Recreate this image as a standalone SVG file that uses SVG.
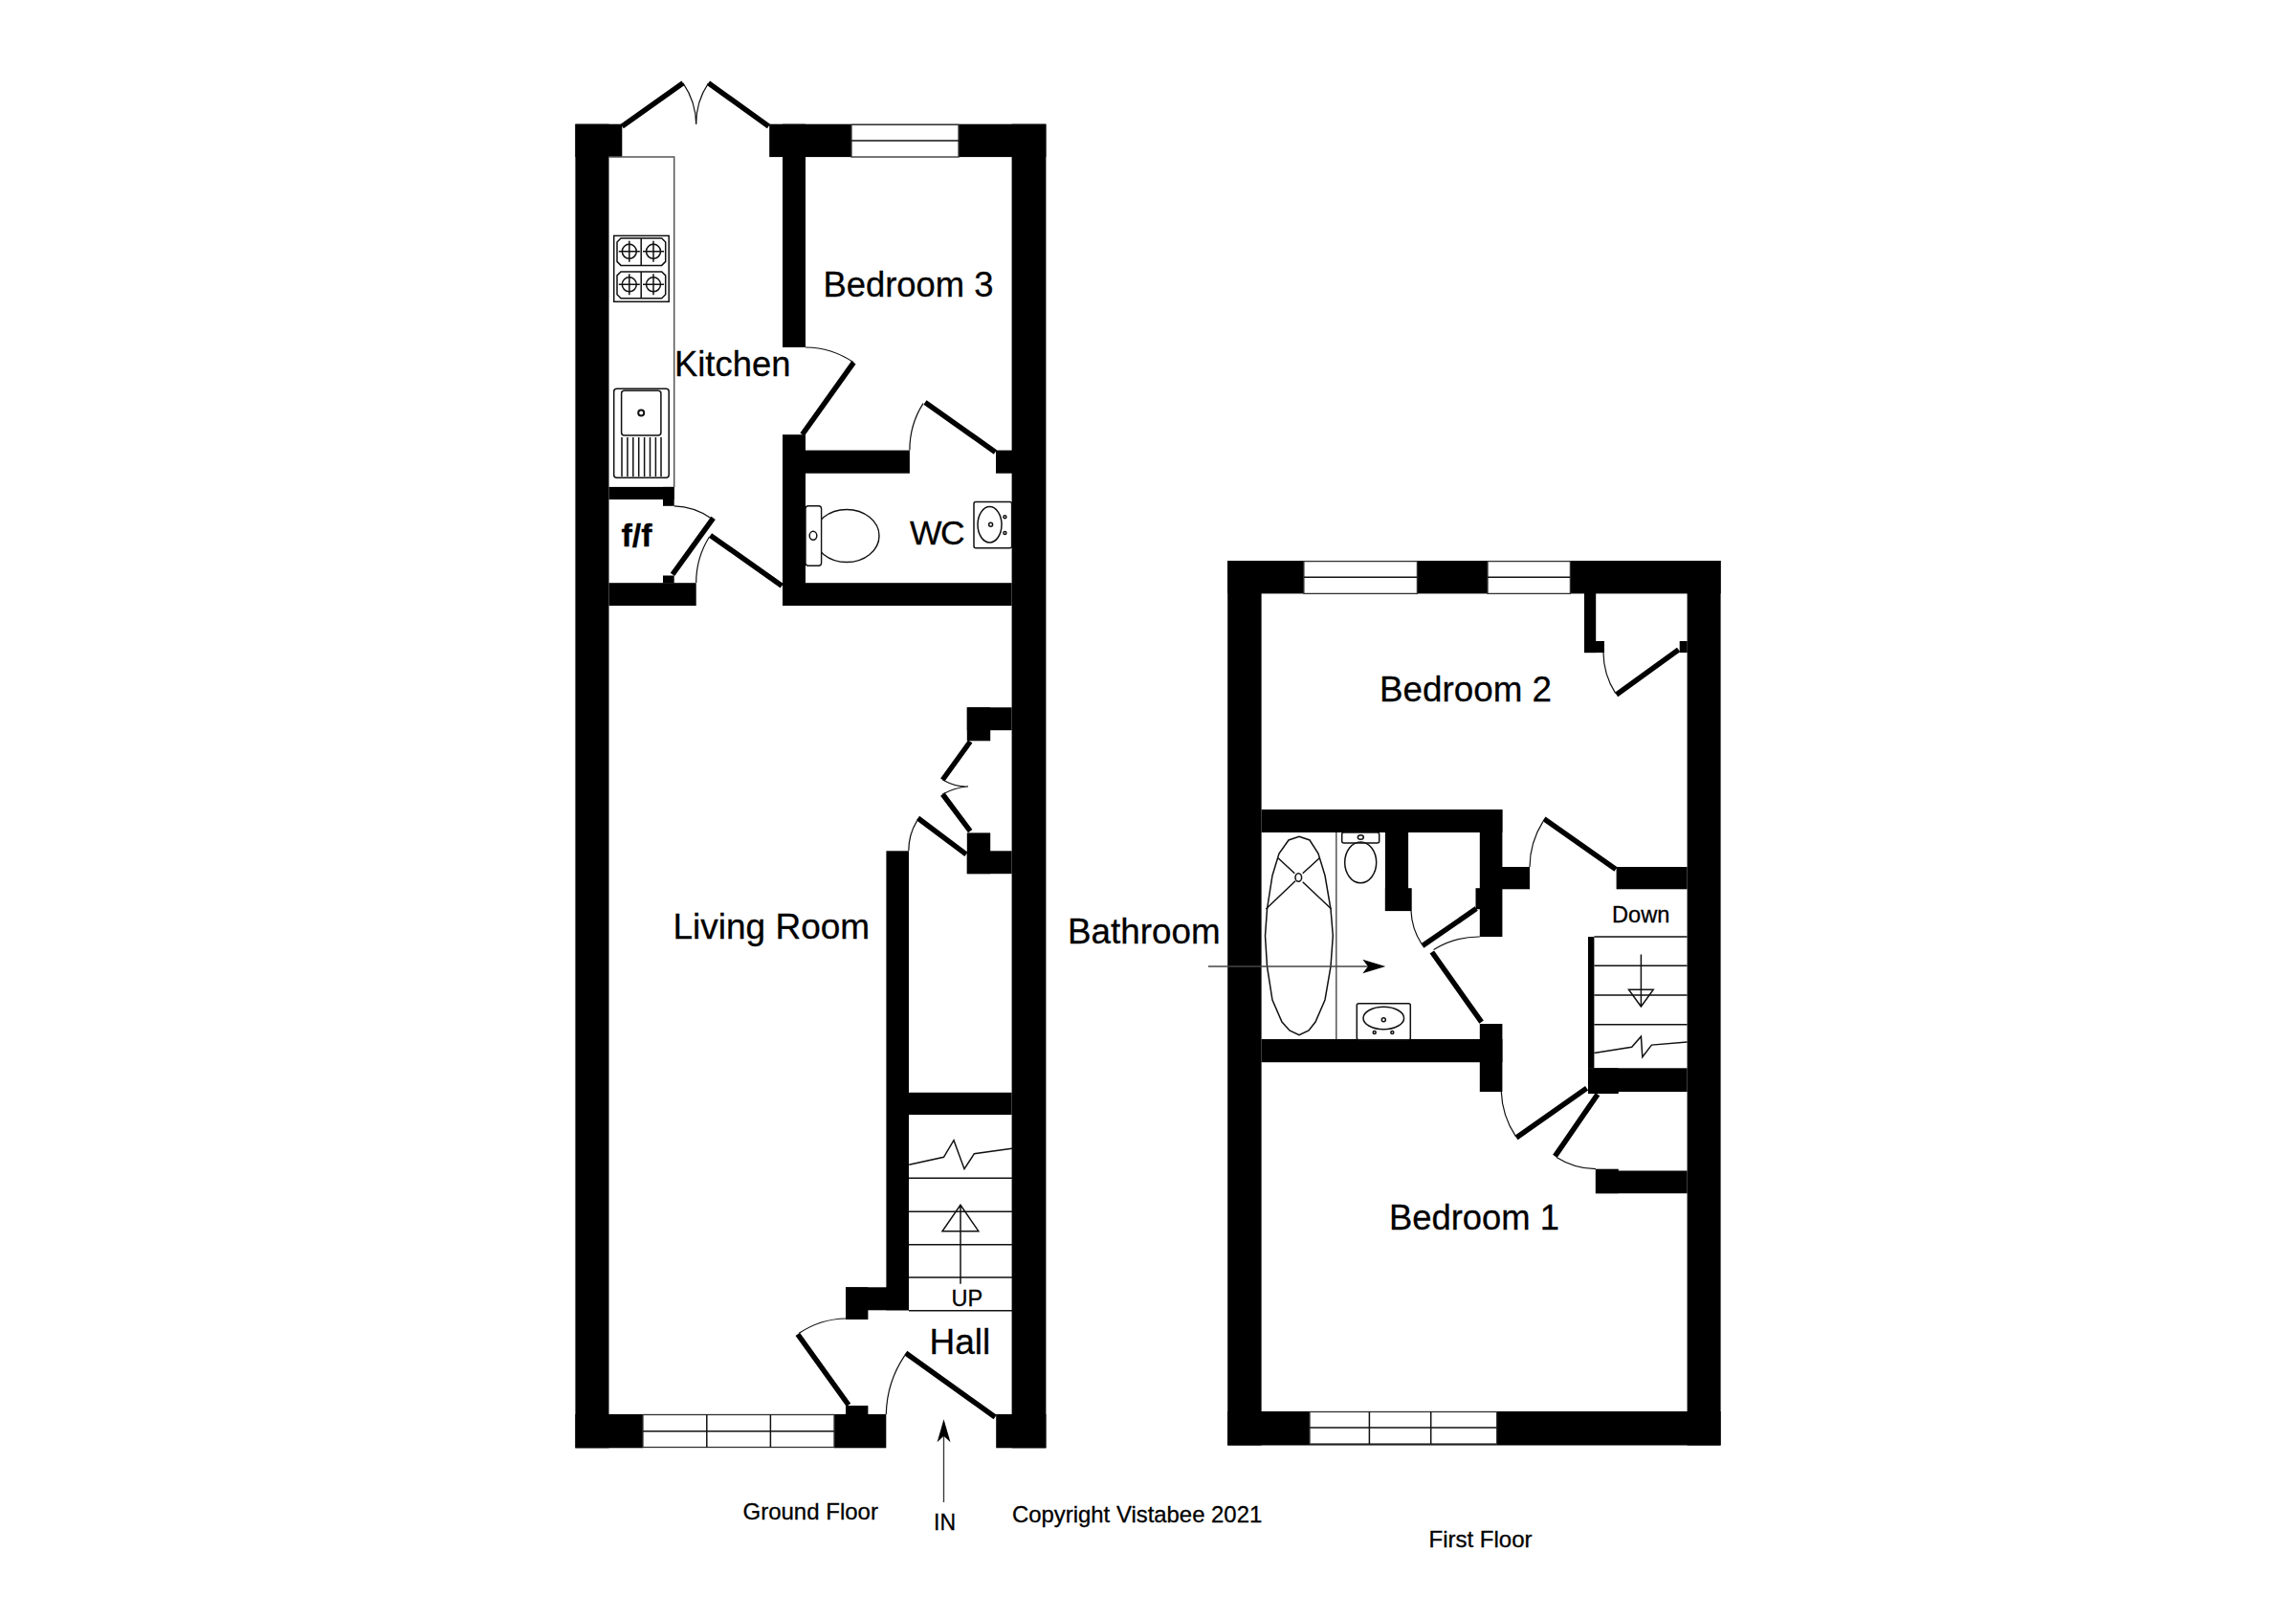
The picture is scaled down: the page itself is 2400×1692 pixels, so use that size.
<svg xmlns="http://www.w3.org/2000/svg" width="2400" height="1692" viewBox="0 0 2400 1692">
<style>
.w{fill:#000;stroke:none}
.win{fill:#fff;stroke:#333;stroke-width:1.3}
.l{fill:none;stroke:#111;stroke-width:1.5}
.g{fill:none;stroke:#555;stroke-width:1.5}
.f{fill:#fff;stroke:#111;stroke-width:1.4}
.leaf{fill:none;stroke:#000;stroke-width:5.5}
.arc{fill:none;stroke:#111;stroke-width:1.2}
.head{fill:#000;stroke:none}
text{font-family:"Liberation Sans",Arial,sans-serif;fill:#000;stroke:#000;stroke-width:.3}
.room{font-size:36.4px}
.small{font-size:24px}
</style>
<defs>
<g id="burner"><circle r="7.5" class="l"/><path d="M-11 0H11M0-11V11" class="l"/></g>
</defs>
<rect width="2400" height="1692" fill="#fff"/>

<g id="ground-floor-walls">
<rect class="w" x="601.4" y="129.7" width="35.1" height="1383.6"/>
<rect class="w" x="601.4" y="129.7" width="48.9" height="34.4"/>
<rect class="w" x="1057.6" y="129.7" width="35.8" height="1383.6"/>
<rect class="w" x="804.2" y="129.7" width="289.2" height="34.4"/>
<rect class="w" x="818" y="129.7" width="24" height="233.3"/>
<rect class="w" x="818" y="454.2" width="24" height="178.8"/>
<rect class="w" x="818" y="609.2" width="239.6" height="23.8"/>
<rect class="w" x="842" y="470.6" width="108.9" height="24.1"/>
<rect class="w" x="1041" y="470.6" width="17" height="24.1"/>
<rect class="w" x="636.5" y="609.2" width="91.2" height="23.8"/>
<rect class="w" x="636.5" y="508.9" width="68.2" height="13.1"/>
<rect class="w" x="693" y="508.9" width="11.7" height="19.9"/>
<rect class="w" x="693" y="601.5" width="11.7" height="8"/>
<rect class="w" x="1010.8" y="739.3" width="46.8" height="23.9"/>
<rect class="w" x="1010.8" y="739.3" width="24.4" height="35"/>
<rect class="w" x="1010.8" y="870.4" width="24.4" height="42.8"/>
<rect class="w" x="1010.8" y="889.3" width="46.8" height="23.9"/>
<rect class="w" x="926.4" y="889.3" width="23.6" height="480"/>
<rect class="w" x="950" y="1141.8" width="107.6" height="23.2"/>
<rect class="w" x="884" y="1345.3" width="66" height="24"/>
<rect class="w" x="884" y="1345.3" width="23.4" height="33.7"/>
<rect class="w" x="601.4" y="1478" width="70.6" height="35.3"/>
<rect class="w" x="872" y="1478" width="54.3" height="35.3"/>
<rect class="w" x="884" y="1469" width="23.4" height="10"/>
<rect class="w" x="1041.2" y="1478" width="52.2" height="35.3"/>
</g>

<g id="ground-floor-windows">
<rect class="win" x="890" y="130.4" width="112" height="33.6"/>
<path class="l" d="M890 146.9H1002"/>
<rect class="win" x="672" y="1478.5" width="200" height="34"/>
<path class="l" d="M672 1495.7H872M738.8 1478.5V1512.5M805.4 1478.5V1512.5"/>
</g>

<g id="kitchen-fittings">
<path class="g" d="M636.5 164.1H704.7V509"/>
<rect class="l" x="641.7" y="246.4" width="57.5" height="68.9"/>
<path class="l" d="M649 249H691.7L695.7 253V273.4L691.7 277.4H649L645 273.4V253Z"/>
<path class="l" d="M649 283.9H691.7L695.7 287.9V307.8L691.7 311.8H649L645 307.8V287.9Z"/>
<path class="l" d="M670.2 249V277.4M670.2 283.9V311.8"/>
<use href="#burner" x="657.8" y="262.8"/><use href="#burner" x="683" y="262.8"/>
<use href="#burner" x="657.8" y="297.3"/><use href="#burner" x="683" y="297.3"/>
<rect class="l" x="641.7" y="406.3" width="57.5" height="93" rx="3"/>
<rect class="l" x="649.6" y="408.3" width="41.3" height="46.7" rx="3"/>
<circle cx="670.2" cy="431.6" r="3" fill="none" stroke="#111" stroke-width="2"/>
<path class="l" d="M650 457V498M655.9 457V498M661.8 457V498M667.7 457V498M673.6 457V498M679.5 457V498M685.4 457V498M691 457V498"/>
</g>

<g id="wc-fittings">
<ellipse class="f" cx="885" cy="560" rx="34" ry="27.5"/>
<rect class="f" x="842" y="528.8" width="16.6" height="62.4" rx="3"/>
<ellipse class="l" cx="850" cy="559.8" rx="3.8" ry="4.5"/>
<rect class="l" x="1018" y="524.6" width="39.6" height="48.2" rx="2"/>
<ellipse class="l" cx="1034.5" cy="548.3" rx="12.5" ry="18.7"/>
<circle class="l" cx="1035.6" cy="548.3" r="2"/>
<circle class="l" cx="1050.4" cy="540.3" r="1.5"/>
<circle class="l" cx="1050.4" cy="557.1" r="1.5"/>
</g>

<g id="ground-floor-stairs">
<path class="l" d="M950 1231.3H1058M950 1266.3H1058M950 1300.7H1058M950 1335H1058M950 1369.7H1058"/>
<path class="l" d="M950.2 1217.3L986.5 1209.3L997 1191.7L1008 1221.7L1018.4 1205.7L1058 1200.3"/>
<path class="l" d="M1004 1259.3V1341.7M1004 1259.3L985 1286.7H1022.8Z"/>
</g>

<g id="ground-floor-doors">
<path class="leaf" d="M650.3 132L714 86.8M740.5 86.8L803.5 132"/>
<path class="arc" d="M714 86.8A78 78 0 0 1 727.7 130M740.5 86.8A76 76 0 0 0 727.7 130"/>
<path class="leaf" d="M838.6 454.2L892.3 378.8"/>
<path class="arc" d="M842 363A91 91 0 0 1 892.3 378.8"/>
<path class="leaf" d="M1040.4 472.5L967 420.5"/>
<path class="arc" d="M950.9 470.6A90 90 0 0 1 965 421.6"/>
<path class="leaf" d="M703 600.4L745.6 541.4"/>
<path class="arc" d="M704.7 528.8A71 71 0 0 1 743 541.4"/>
<path class="leaf" d="M817.3 612.2L742.5 559.4"/>
<path class="arc" d="M727.7 609A90 90 0 0 1 741.5 561"/>
<path class="leaf" d="M1014.2 775L985.3 815M1014.2 868.6L985.3 830"/>
<path class="arc" d="M985.3 815Q1000 823 1012 822Q998 823 985.3 830"/>
<path class="leaf" d="M1010 892.9L959.5 855"/>
<path class="arc" d="M949.8 889.3A60 60 0 0 1 958.5 857.9"/>
<path class="leaf" d="M887 1468.3L833.8 1394.3"/>
<path class="arc" d="M884 1378A90 90 0 0 0 835.3 1393.3"/>
<path class="leaf" d="M1040.2 1481L946.7 1414"/>
<path class="arc" d="M926.3 1478A114 114 0 0 1 945.7 1416.7"/>
</g>

<g id="first-floor-walls">
<rect class="w" x="1283.2" y="586" width="35.4" height="924.5"/>
<rect class="w" x="1763.6" y="586" width="35" height="924.5"/>
<rect class="w" x="1283.2" y="586" width="515.4" height="34.4"/>
<rect class="w" x="1283.2" y="1475" width="515.4" height="35.5"/>
<rect class="w" x="1656" y="620" width="12.2" height="62.1"/>
<rect class="w" x="1656" y="670" width="21" height="12.1"/>
<rect class="w" x="1755.7" y="670" width="8" height="12.1"/>
<rect class="w" x="1318.6" y="846" width="251.8" height="24"/>
<rect class="w" x="1546.8" y="846" width="23.6" height="133"/>
<rect class="w" x="1542.5" y="928.2" width="5" height="22"/>
<rect class="w" x="1570" y="906" width="29" height="23.3"/>
<rect class="w" x="1689.6" y="906" width="74" height="23.3"/>
<rect class="w" x="1447.9" y="870" width="24.2" height="82"/>
<rect class="w" x="1447.9" y="928.2" width="27.8" height="23.9"/>
<rect class="w" x="1546.8" y="1070" width="23.6" height="71"/>
<rect class="w" x="1318.6" y="1086" width="251.8" height="24.2"/>
<rect class="w" x="1660" y="979" width="6.4" height="137.3"/>
<rect class="w" x="1660" y="1116.3" width="103.6" height="24.7"/>
<rect class="w" x="1660" y="1116.3" width="31.8" height="26.7"/>
<rect class="w" x="1667.9" y="1223.5" width="95.7" height="23.7"/>
<rect class="w" x="1667.9" y="1221.7" width="23.9" height="25.5"/>
</g>

<g id="first-floor-windows">
<rect class="win" x="1362.9" y="586.6" width="118.5" height="33.8"/>
<rect class="win" x="1555" y="586.6" width="86.4" height="33.8"/>
<path class="l" d="M1362.9 603.2H1481.4M1555 603.2H1641.4"/>
<rect class="win" x="1369" y="1475.5" width="195.6" height="33.5"/>
<path class="l" d="M1369 1492H1564.6M1431.4 1475.5V1509M1495.7 1475.5V1509"/>
</g>

<g id="bathroom-fittings">
<path class="g" d="M1396.8 870V1086"/>
<path class="l" d="M1358 874.3L1369 878L1378 892L1385 915L1391 950L1393.3 978L1391 1010L1385 1045L1375 1068L1368 1077L1358 1081.6L1348 1077L1340 1068L1330 1045L1324.5 1010L1322.5 978L1324.5 950L1330 915L1337 892L1347 878Z"/>
<ellipse class="l" cx="1357.3" cy="917" rx="3.3" ry="4.3"/>
<path class="l" d="M1336 896.7L1353.3 912.7M1379.3 896.7L1361.7 912.7M1323.3 950L1354 920.7M1391.7 950L1361.7 921.7"/>
<rect class="l" x="1402.7" y="870" width="39" height="11" rx="2"/>
<ellipse class="l" cx="1422.3" cy="875" rx="3" ry="2.3"/>
<ellipse class="l" cx="1422.2" cy="901.3" rx="16.5" ry="21.4"/>
<rect class="l" x="1418.3" y="1048.7" width="56" height="38" rx="2"/>
<ellipse class="l" cx="1446.3" cy="1064" rx="21.3" ry="11.7"/>
<circle class="l" cx="1446.3" cy="1065.7" r="2"/>
<circle class="l" cx="1436.7" cy="1079" r="1.5"/>
<circle class="l" cx="1455.3" cy="1079" r="1.5"/>
</g>

<g id="first-floor-stairs">
<path class="l" d="M1666.4 979H1763.6M1666.4 1009.3H1763.6M1666.4 1040H1763.6M1666.4 1070.7H1763.6"/>
<path class="l" d="M1666.4 1100.4L1705.7 1094.3L1715.4 1083.2L1716.8 1104.6L1726.4 1092.1L1763.6 1089"/>
<path class="l" d="M1715.4 997.5V1052M1715.4 1052L1702.5 1034.3H1728.2Z"/>
</g>

<g id="first-floor-doors">
<path class="leaf" d="M1754.6 679L1689.6 726"/>
<path class="arc" d="M1676 682A79 79 0 0 0 1688.6 724.3"/>
<path class="leaf" d="M1689 908.6L1614 855.7"/>
<path class="arc" d="M1599 906A90 90 0 0 1 1612.9 858.6"/>
<path class="leaf" d="M1543.2 949.6L1486.8 988.6"/>
<path class="arc" d="M1475 952A68 68 0 0 0 1485.7 986"/>
<path class="leaf" d="M1548.6 1068.2L1496.8 995"/>
<path class="arc" d="M1546.8 979A89 89 0 0 0 1498.6 992.5"/>
<path class="leaf" d="M1658.6 1137.3L1585 1189"/>
<path class="arc" d="M1569.3 1141A89 89 0 0 0 1584.3 1187.3"/>
<path class="leaf" d="M1670 1143.6L1625.4 1208.4"/>
<path class="arc" d="M1668 1221.7A78 78 0 0 1 1627 1209.5"/>
</g>

<g id="connectors">
<path d="M986.5 1570V1490" stroke="#333" stroke-width="1.3" fill="none"/>
<path class="head" d="M986.5 1483.3L993.5 1507.3L986.5 1500.7L979.6 1507.3Z"/>
<path d="M1263 1010H1432" stroke="#444" stroke-width="1.4" fill="none"/>
<path class="head" d="M1448.3 1010L1424.3 1002.7L1430 1010L1424.3 1017.3Z"/>
</g>

<g id="labels">
<text class="room" x="860.5" y="309.5">Bedroom 3</text>
<text class="room" x="705" y="393">Kitchen</text>
<text x="649.5" y="571.3" font-size="34" font-weight="bold">f/f</text>
<text x="951" y="569" font-size="35.5" letter-spacing="-1.5">WC</text>
<text x="703.5" y="981" font-size="37">Living Room</text>
<text x="971.5" y="1415" font-size="37">Hall</text>
<text x="994.5" y="1365" font-size="23.5">UP</text>
<text x="1442" y="732.5" font-size="36.8">Bedroom 2</text>
<text x="1116" y="986" font-size="36.8">Bathroom</text>
<text x="1685" y="963.6" font-size="23.6">Down</text>
<text class="room" x="1452" y="1284.6">Bedroom 1</text>
<text class="small" x="776.5" y="1588.3">Ground Floor</text>
<text x="976" y="1599.3" font-size="23">IN</text>
<text x="1058" y="1590.7" font-size="23.9">Copyright Vistabee 2021</text>
<text class="small" x="1493.5" y="1617">First Floor</text>
</g>
</svg>
